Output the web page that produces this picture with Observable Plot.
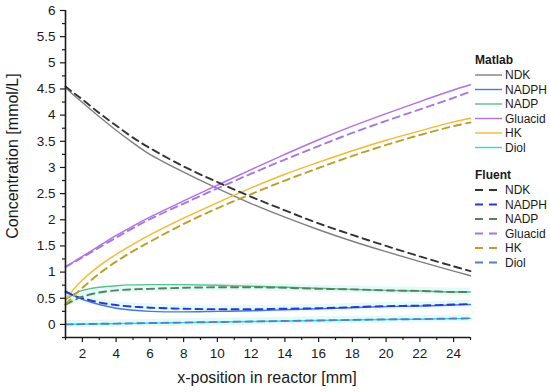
<!DOCTYPE html>
<html><head><meta charset="utf-8">
<script src="https://cdn.jsdelivr.net/npm/d3@7"></script>
<script src="https://cdn.jsdelivr.net/npm/@observablehq/plot@0.6"></script>
<style>
body{margin:0;background:#fff;}
#chart svg{font-family:"Liberation Sans",Arial,sans-serif;background:#fff;}
</style>
</head><body><div id="chart"></div>
<script>
// ---- data ----
const xPos = [1,1.5,2,3,4,5,6,8,10,12,14,16,18,20,22,24,25];
const species = ["NDK","NADPH","NADP","Gluacid","HK","Diol"];

const matlabNDK     = [4.53,4.38,4.24,3.97,3.71,3.47,3.25,2.91,2.60,2.31,2.05,1.81,1.59,1.39,1.20,1.02,0.93];
const matlabNADPH   = [0.64,0.55,0.48,0.38,0.31,0.27,0.25,0.24,0.25,0.26,0.28,0.30,0.32,0.34,0.35,0.37,0.38];
const matlabNADP    = [0.47,0.58,0.65,0.71,0.74,0.755,0.76,0.76,0.75,0.73,0.71,0.69,0.67,0.65,0.64,0.62,0.62];
const matlabGluacid = [1.10,1.20,1.30,1.50,1.70,1.88,2.05,2.36,2.66,2.96,3.25,3.53,3.79,4.03,4.26,4.48,4.58];
const matlabHK      = [0.47,0.68,0.85,1.12,1.34,1.53,1.71,2.03,2.33,2.61,2.87,3.10,3.32,3.52,3.70,3.87,3.94];
const matlabDiol    = [0.00,0.003,0.005,0.01,0.015,0.02,0.025,0.035,0.045,0.055,0.065,0.075,0.085,0.095,0.10,0.11,0.115];

const fluentNDK     = [4.55,4.42,4.30,4.04,3.80,3.57,3.37,3.02,2.72,2.44,2.18,1.93,1.71,1.50,1.30,1.11,1.02];
const fluentNADPH   = [0.62,0.55,0.50,0.42,0.37,0.34,0.32,0.30,0.29,0.29,0.30,0.31,0.33,0.35,0.36,0.38,0.39];
const fluentNADP    = [0.38,0.46,0.53,0.61,0.65,0.67,0.68,0.70,0.71,0.71,0.70,0.68,0.67,0.65,0.64,0.62,0.62];
const fluentGluacid = [1.10,1.19,1.28,1.47,1.66,1.84,2.01,2.31,2.60,2.88,3.15,3.41,3.66,3.89,4.11,4.33,4.45];
const fluentHK      = [0.38,0.55,0.70,0.97,1.20,1.40,1.58,1.92,2.22,2.49,2.75,2.99,3.22,3.43,3.62,3.79,3.86];
const fluentDiol    = [0.00,0.003,0.006,0.011,0.016,0.021,0.026,0.036,0.046,0.056,0.066,0.076,0.086,0.096,0.102,0.112,0.117];

const matlabColors = ["#7f7f7f","#4a78d8","#5cbf8a","#b46ee6","#f7b731","#22dede"];
const fluentColors = ["#333333","#2e35c8","#5a7f5a","#a478e0","#b8a02a","#5a7fbf"];

const yTicks = [0,0.5,1,1.5,2,2.5,3,3.5,4,4.5,5,5.5,6];
const yMinorTicks = [-0.25,0.25,0.75,1.25,1.75,2.25,2.75,3.25,3.75,4.25,4.75,5.25,5.75];
const xTicks = [2,4,6,8,10,12,14,16,18,20,22,24];
const xMinorTicks = [1,3,5,7,9,11,13,15,17,19,21,23,25];

const matlabSeries = [matlabNDK,matlabNADPH,matlabNADP,matlabGluacid,matlabHK,matlabDiol];
const fluentSeries = [fluentNDK,fluentNADPH,fluentNADP,fluentGluacid,fluentHK,fluentDiol];

// ---- build tables ----
function toRows(seriesList, colors, source) {
  const rows = [];
  seriesList.forEach((vals, i) => vals.forEach((v, j) =>
    rows.push({x: xPos[j], y: v, species: species[i], color: colors[i], source})));
  return rows;
}
const matlabRows = toRows(matlabSeries, matlabColors, "Matlab");
const fluentRows = toRows(fluentSeries, fluentColors, "Fluent");
const bandRows = fluentRows.filter(d => ["NADPH","NADP","Diol"].includes(d.species));

const chart = Plot.plot({
  width: 550, height: 392,
  marginLeft: 65, marginRight: 80, marginTop: 10, marginBottom: 55,
  x: {domain: [1, 25]},
  y: {domain: [-0.25, 6]},
  color: {type: "identity"},
  style: {fontFamily: "Liberation Sans, Arial, sans-serif", fontSize: "13.5px", color: "#1a1a1a", background: "#fff"},
  marks: [
    Plot.areaY(bandRows, {x: "x", y1: d => d.y - 0.07, y2: d => d.y + 0.07, z: "species", fill: "#e0f9f9", fillOpacity: 0.9, curve: "catmull-rom"}),
    Plot.lineY(matlabRows, {x: "x", y: "y", z: "species", stroke: "color", strokeWidth: 1.4, curve: "catmull-rom"}),
    Plot.lineY(fluentRows, {x: "x", y: "y", z: "species", stroke: "color", strokeWidth: 1.9, strokeDasharray: "7,5", curve: "catmull-rom"}),
    Plot.axisY({ticks: yTicks, tickSize: 5, tickPadding: 5, tickFormat: d => String(d), label: null, stroke: "#1a1a1a", strokeWidth: 1.2}),
    Plot.axisY({ticks: yMinorTicks, tickSize: 3, tickFormat: () => "", label: null, stroke: "#1a1a1a", strokeWidth: 1.2}),
    Plot.axisX({ticks: xTicks, tickSize: 5, tickPadding: 6, tickFormat: d => String(d), label: null, stroke: "#1a1a1a", strokeWidth: 1.2}),
    Plot.axisX({ticks: xMinorTicks, tickSize: 3, tickFormat: () => "", label: null, stroke: "#1a1a1a", strokeWidth: 1.2}),
    Plot.ruleX([1], {y1: -0.25, y2: 6, stroke: "#1a1a1a", strokeWidth: 1.6}),
    Plot.ruleY([-0.25], {x1: 1, x2: 25, stroke: "#1a1a1a", strokeWidth: 1.6})
  ]
});
document.getElementById("chart").appendChild(chart);

// ---- titles and legend ----
const svg = d3.select(chart);
svg.append("text").attr("x", 267).attr("y", 383).attr("text-anchor", "middle")
  .attr("font-size", 16).attr("fill", "#1a1a1a").text("x-position in reactor [mm]");
svg.append("text").attr("transform", "translate(18,156) rotate(-90)").attr("text-anchor", "middle")
  .attr("font-size", 16).attr("fill", "#1a1a1a").text("Concentration [mmol/L]");

const legend = svg.append("g").attr("font-size", 12).attr("fill", "#1a1a1a").attr("text-anchor", "start");
function legendBlock(title, colors, y0, dashed) {
  legend.append("text").attr("x", 475).attr("y", y0).attr("dy", "0.35em")
    .attr("text-anchor", "start").attr("font-weight", "bold").text(title);
  species.forEach((s, i) => {
    const y = y0 + 15 + i * 14.5;
    legend.append("line").attr("x1", 475).attr("x2", 502).attr("y1", y).attr("y2", y)
      .attr("stroke", colors[i]).attr("stroke-width", dashed ? 1.9 : 1.4)
      .attr("stroke-dasharray", dashed ? "8,6" : null);
    legend.append("text").attr("x", 505).attr("y", y).attr("dy", "0.35em")
      .attr("text-anchor", "start").text(s);
  });
}
legendBlock("Matlab", matlabColors, 60, false);
legendBlock("Fluent", fluentColors, 175, true);
</script>
</body></html>
